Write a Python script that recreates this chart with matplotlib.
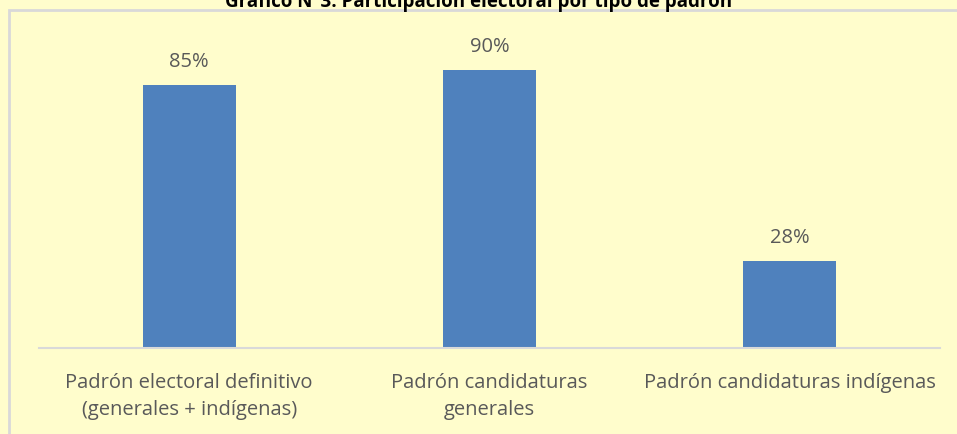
import matplotlib.pyplot as plt
from matplotlib.patches import Rectangle

categories = ['Padrón electoral definitivo\n(generales + indígenas)',
              'Padrón candidaturas\ngenerales',
              'Padrón candidaturas indígenas']
values = [0.85, 0.90, 0.28]
value_labels = ['85%', '90%', '28%']
title = 'Gráfico N°3: Participación electoral por tipo de padrón'

bg = '#FFFDCC'
bar_color = '#4F81BD'
text_color = '#595959'

plt.rcParams['font.family'] = ['Open Sans', 'DejaVu Sans']

fig = plt.figure(figsize=(9.57, 4.34), dpi=100)
fig.patch.set_facecolor(bg)

# outer chart frame (cut at right and bottom)
fig.patches.append(Rectangle((9/957, -0.05), 1.0, 1 - 10/434 + 0.05,
                             transform=fig.transFigure, fill=False,
                             edgecolor='#D9D9D9', linewidth=2))

ax = fig.add_axes([39/957, 86/434, 901/957, 309/434])
ax.set_facecolor(bg)
x = range(len(categories))
ax.bar(x, values, width=0.31, color=bar_color)
for i, v in enumerate(values):
    ax.text(i, v + 0.075, value_labels[i], ha='center', va='center',
            fontsize=14.5, color=text_color)

ax.set_xlim(-0.5, 2.5)
ax.set_ylim(0, 1)
ax.set_yticks([])
ax.set_xticks(list(x))
ax.set_xticklabels(categories, fontsize=14.5, color=text_color, linespacing=1.45)
ax.tick_params(axis='x', length=0, pad=18)
for s in ['top', 'right', 'left']:
    ax.spines[s].set_visible(False)
ax.spines['bottom'].set_color('#D9D9D9')
ax.spines['bottom'].set_linewidth(1.5)

fig.text(0.5, 1 - 7/434, title, ha='center', va='baseline',
         fontsize=13.5, fontweight='bold', color='black')

fig.savefig('out.png', dpi=100, facecolor=bg)
